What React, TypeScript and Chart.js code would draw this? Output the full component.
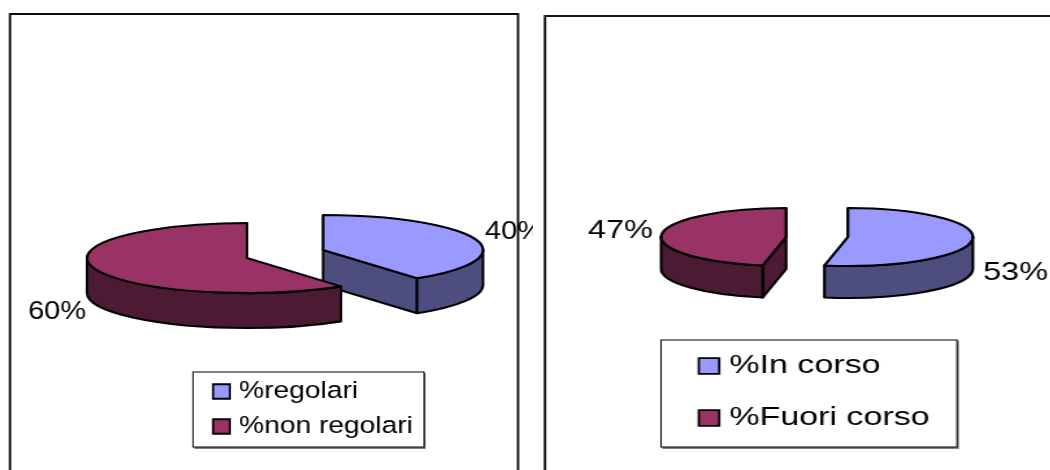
import React, { useEffect, useRef } from "react";
import { Chart, registerables } from "chart.js";

Chart.register(...registerables);

const FONT = "'Liberation Sans', Arial, sans-serif";

const leftCategories = ["%regolari", "%non regolari"];
const leftValues = [40, 60];
const rightCategories = ["%In corso", "%Fuori corso"];
const rightValues = [53, 47];
const topColors = ["#9999FF", "#993366"];
const wallColors = ["#4D4D80", "#4D1A33"];

const panels: any[] = [
  {
    key: "left",
    labels: leftCategories,
    values: leftValues,
    x0: 0,
    canvasWidth: 460,
    sx: 1.16,
    centre: [285, 254],
    rx: 160,
    ry: 35,
    depth: 35,
    explode: 40,
    explodeYScale: 1.5,
    frame: [10, 14],
    frameRight: 518,
    frameLine: 1.9,
    legendBox: [193, 372, 424, 447],
    legendFont: 24.3,
    boxSide: 14.5,
    boxAdvance: 5.9,
    legendBoxCentre: 221.5,
    legendFirstCentre: 391.5,
    legendGap: 35,
    labelFont: 25,
    labelAt: [[485, 232], [28, 312]],
  },
  {
    key: "right",
    labels: rightCategories,
    values: rightValues,
    x0: 533,
    canvasWidth: 398,
    sx: 1.3,
    centre: [817, 237],
    rx: 125,
    ry: 29,
    depth: 32,
    explode: 31,
    explodeYScale: 0,
    frame: [545, 16],
    frameRight: 1100,
    frameLine: 1.8,
    legendBox: [661, 340, 957, 447],
    legendFont: 26.2,
    boxSide: 15.7,
    boxAdvance: 4.8,
    legendBoxCentre: 709,
    legendFirstCentre: 366,
    legendGap: 52,
    labelFont: 25,
    labelAt: [[983, 273], [588, 231]],
  },
];

const HEIGHT = 470;
const EDGE = 2.1;

function rimRanges(s: number, e: number) {
  const out: number[][] = [];
  for (const k of [-1, 0, 1]) {
    const lo = Math.max(s, 2 * Math.PI * k);
    const hi = Math.min(e, Math.PI + 2 * Math.PI * k);
    if (hi > lo) out.push([lo, hi]);
  }
  return out;
}

const pie3d: any = {
  id: "pie3d",
  afterLayout(chart: any, _a: any, o: any) {
    const l = chart.legend;
    if (!l) return;
    const p = o.panel;
    const pad = chart.options.plugins.legend.labels.padding;
    const centre = (p.legendBoxCentre - p.x0) / p.sx;
    const left = centre - p.boxAdvance / 2 - pad;
    const top = p.legendFirstCentre - p.legendFont / 2 - pad;
    l.left = left;
    l.top = top;
    l.right = left + 400;
    l.bottom = top + 200;
    l.width = 400;
    l.height = 200;
  },
  beforeDraw(chart: any, _a: any, o: any) {
    const p = o.panel;
    const ctx = chart.ctx;
    const X = (v: number) => (v - p.x0) / p.sx;
    ctx.save();
    ctx.fillStyle = "#FFFFFF";
    ctx.fillRect(0, 0, chart.width, chart.height);
    ctx.strokeStyle = "#000000";
    ctx.lineWidth = p.frameLine;
    ctx.strokeRect(X(p.frame[0]), p.frame[1], X(p.frameRight) - X(p.frame[0]), HEIGHT + 40 - p.frame[1]);
    const [a, b, c, d] = p.legendBox;
    ctx.fillStyle = "#808080";
    ctx.fillRect(X(a) + 1, b + 1, X(c) - X(a) + 0.5, d - b + 1);
    ctx.fillStyle = "#FFFFFF";
    ctx.fillRect(X(a), b, X(c) - X(a), d - b);
    ctx.lineWidth = 1;
    ctx.strokeRect(X(a), b, X(c) - X(a), d - b);
    ctx.restore();
  },
  beforeDatasetDraw(chart: any, args: any, o: any) {
    const p = o.panel;
    const ctx = chart.ctx;
    const R = p.rx / p.sx;
    const squash = p.ry / R;
    const depth = p.depth;
    const explode = p.explode / p.sx;
    const items = args.meta.data.map((arc: any, i: number) => {
      const { x, y, startAngle: s, endAngle: e } = arc.getProps(["x", "y", "startAngle", "endAngle"], true);
      const mid = (s + e) / 2;
      return {
        arc, i, x, y, s, e,
        cx: x + explode * Math.cos(mid),
        cy: y + explode * Math.sin(mid) * squash * p.explodeYScale,
      };
    });
    items.sort((u: any, v: any) => u.cy - v.cy);
    for (const it of items) {
      const { arc, i, x, y, s, e, cx, cy } = it;
      const pt = (a: number) => [cx + R * Math.cos(a), cy + R * squash * Math.sin(a)];
      ctx.save();
      ctx.lineWidth = EDGE;
      ctx.lineJoin = "round";
      ctx.strokeStyle = "#000000";
      ctx.fillStyle = wallColors[i];
      const quad = (a: number) => {
        const q = pt(a);
        ctx.beginPath();
        ctx.moveTo(cx, cy);
        ctx.lineTo(q[0], q[1]);
        ctx.lineTo(q[0], q[1] + depth);
        ctx.lineTo(cx, cy + depth);
        ctx.closePath();
        ctx.fill();
        ctx.stroke();
      };
      // a cut face shows when its outward normal points at the viewer
      if (Math.cos(s) < -1e-6) quad(s);
      if (Math.cos(e) > 1e-6) quad(e);
      for (const [lo, hi] of rimRanges(s, e)) {
        const a = pt(lo);
        ctx.beginPath();
        ctx.moveTo(a[0], a[1]);
        ctx.ellipse(cx, cy, R, R * squash, 0, lo, hi);
        ctx.ellipse(cx, cy + depth, R, R * squash, 0, hi, lo, true);
        ctx.closePath();
        ctx.fill();
        ctx.stroke();
      }
      ctx.restore();

      ctx.save();
      ctx.translate(cx, cy);
      ctx.scale(1, squash);
      ctx.translate(-x, -y);
      arc.draw(ctx);
      ctx.restore();

      ctx.save();
      ctx.lineWidth = EDGE;
      ctx.lineJoin = "round";
      ctx.strokeStyle = "#000000";
      ctx.beginPath();
      ctx.moveTo(cx, cy);
      ctx.ellipse(cx, cy, R, R * squash, 0, s, e);
      ctx.closePath();
      ctx.stroke();
      ctx.restore();
    }
    return false;
  },
  afterDatasetsDraw(chart: any, _a: any, o: any) {
    const p = o.panel;
    const ctx = chart.ctx;
    ctx.save();
    ctx.fillStyle = "#000000";
    ctx.font = `${p.labelFont}px ${FONT}`;
    ctx.textAlign = "left";
    ctx.textBaseline = "middle";
    p.values.forEach((v: number, i: number) => {
      const [lx, ly] = p.labelAt[i];
      ctx.fillText(`${v}%`, (lx - p.x0) / p.sx, ly);
    });
    ctx.restore();
  },
};

function Panel({ panel }: { panel: any }) {
  const ref = useRef<HTMLCanvasElement | null>(null);
  useEffect(() => {
    if (!ref.current) return;
    const p = panel;
    const centreX = (p.centre[0] - p.x0) / p.sx;
    const padX = 2 * centreX - p.canvasWidth;
    const padY = 2 * p.centre[1] - HEIGHT;
    const chart = new Chart(ref.current, {
      type: "pie",
      data: {
        labels: p.labels,
        datasets: [
          {
            data: p.values,
            backgroundColor: topColors,
            borderColor: "#000000",
            borderWidth: 1.8,
            hoverOffset: 0,
          },
        ],
      },
      plugins: [pie3d],
      options: {
        responsive: false,
        maintainAspectRatio: false,
        devicePixelRatio: 1,
        animation: false,
        radius: p.rx / p.sx,
        layout: {
          padding: {
            left: Math.max(padX, 0),
            right: Math.max(-padX, 0),
            top: Math.max(padY, 0),
            bottom: Math.max(-padY, 0),
          },
        },
        plugins: {
          title: { display: false },
          tooltip: { enabled: false },
          legend: {
            display: true,
            position: "chartArea",
            align: "start",
            labels: {
              usePointStyle: true,
              pointStyle: "rect",
              boxWidth: p.boxAdvance,
              boxHeight: p.boxSide,
              padding: p.legendGap - p.legendFont,
              color: "#000000",
              font: { family: FONT, size: p.legendFont, lineHeight: 1.2 },
            },
          },
          pie3d: { panel: p },
        },
      } as any,
    });
    return () => chart.destroy();
  }, [panel]);
  return (
    <canvas
      ref={ref}
      width={panel.canvasWidth}
      height={HEIGHT}
      style={{
        position: "absolute",
        left: panel.x0,
        top: 0,
        width: panel.canvasWidth,
        height: HEIGHT,
        display: "block",
        transformOrigin: "0 0",
        transform: `scaleX(${panel.sx})`,
      }}
    />
  );
}

export default function App() {
  return (
    <div
      style={{
        position: "absolute",
        left: 0,
        top: 0,
        width: 1050,
        height: HEIGHT,
        overflow: "hidden",
        background: "#FFFFFF",
      }}
    >
      {panels.map((p) => (
        <Panel key={p.key} panel={p} />
      ))}
    </div>
  );
}
